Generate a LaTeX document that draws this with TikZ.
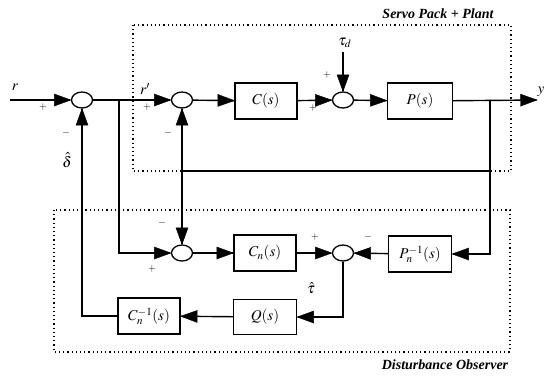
\documentclass[tikz,border=0pt]{standalone}
\usepackage{mathptmx}
\usepackage{fontspec}
\setmainfont{Liberation Serif}
\usetikzlibrary{arrows.meta,shapes.geometric}
\pgfarrowsdeclare{bigtri}{bigtri}{\pgfarrowsleftextend{-16pt}\pgfarrowsrightextend{0.5pt}}{%
  \pgfsetlinewidth{0.4pt}%
  \pgfpathmoveto{\pgfpoint{0.5pt}{0pt}}%
  \pgfpathlineto{\pgfpoint{-16pt}{6pt}}%
  \pgfpathlineto{\pgfpoint{-16pt}{-6pt}}%
  \pgfpathclose
  \pgfusepathqfillstroke}
\begin{document}
\begin{tikzpicture}[x=1pt,y=1pt,
  blk/.style={draw, line width=1.3pt, minimum width=62pt, minimum height=36pt, inner sep=0pt, font=\fontsize{15}{17}\selectfont},
  sumj/.style={draw, ellipse, line width=1.3pt, minimum width=21pt, minimum height=16pt, inner sep=0pt},
  sig/.style={line width=1.4pt, -bigtri},
  ln/.style={line width=1.4pt},
  sgn/.style={font=\fontsize{10}{12}\selectfont, inner sep=0pt},
  lbl/.style={font=\fontsize{15}{17}\selectfont, inner sep=0pt},
  grp/.style={line width=1.1pt, dash pattern=on 1.2pt off 3pt},
  ttl/.style={font=\bfseries\itshape\fontsize{14}{16}\selectfont, inner sep=0pt}]
\useasboundingbox (0,0) rectangle (555,-376);
% groups
\draw[grp] (133,-25) rectangle (511,-171);
\draw[grp] (54,-210) rectangle (510,-352);
\node[ttl] (t1) at (438,-14) {Servo Pack + Plant};
\node[ttl] (t2) at (445,-365) {Disturbance Observer};
% nodes
\node[sumj] (s1) at (82,-100) {};
\node[sumj] (s2) at (182,-100) {};
\node[blk] (C) at (266,-101) {$C(s)$};
\node[sumj] (s3) at (343,-100) {};
\node[blk, minimum width=65pt] (P) at (420,-101) {$P(s)$};
\node[sumj] (s4) at (182,-253) {};
\node[blk] (Cn) at (265,-253) {$C_n(s)$};
\node[sumj] (s5) at (343,-253) {};
\node[blk, minimum width=63pt] (Pni) at (420,-254) {$P_n^{-1}(s)$};
\node[blk] (Cni) at (149,-316) {$C_n^{-1}(s)$};
\node[blk, minimum width=63pt, minimum height=35pt] (Q) at (265,-317) {$Q(s)$};
% coordinates
\coordinate (in) at (10,-100);
\coordinate (out) at (537,-100);
\coordinate (yb) at (490,-100);
\coordinate (rb) at (119,-100);
\coordinate (td) at (343,-52);
\coordinate (fb) at (182,-171);
\coordinate (fbr) at (490,-171);
% connectors
\draw[sig] (in) -- (s1);
\draw[sig] (s1) -- (s2);
\draw[sig] (s2) -- (C);
\draw[sig] (C) -- (s3);
\draw[sig] (td) -- (s3);
\draw[sig] (s3) -- (P);
\draw[sig] (P) -- (out);
\draw[ln] (yb) -- (fbr) -- (fb);
\draw[sig] (fbr) |- (Pni);
\draw[sig] (fb) -- (s2);
\draw[sig] (fb) -- (s4);
\draw[sig] (rb) |- (s4);
\draw[sig] (s4) -- (Cn);
\draw[sig] (Cn) -- (s5);
\draw[sig] (Pni) -- (s5);
\draw[sig] (s5) |- (Q);
\draw[sig] (Q) -- (Cni);
\draw[sig] (Cni.west) -| (s1);
% labels
\node[lbl] (lr) at (15,-87) {$r$};
\node[sgn] (p1) at (43,-107) {$+$};
\node[sgn] (m1) at (66,-133) {$-$};
\node[lbl] (ld) at (67,-160) {$\hat{\delta}$};
\node[lbl] (lrp) at (145,-89) {$r'$};
\node[sgn] (p2) at (147,-107) {$+$};
\node[sgn] (m2) at (168,-133) {$-$};
\node[lbl] (ltd) at (345,-43) {$\tau_d$};
\node[sgn] (p3) at (327,-75) {$+$};
\node[sgn] (p4) at (313,-108) {$+$};
\node[lbl] (ly) at (541,-92) {$y$};
\node[sgn] (p5) at (152,-269) {$+$};
\node[sgn] (m5) at (162,-223) {$-$};
\node[sgn] (p6) at (315,-237) {$+$};
\node[sgn] (m6) at (368,-237) {$-$};
\node[lbl] (lt) at (311,-288) {$\hat{\tau}$};
\end{tikzpicture}
\end{document}
